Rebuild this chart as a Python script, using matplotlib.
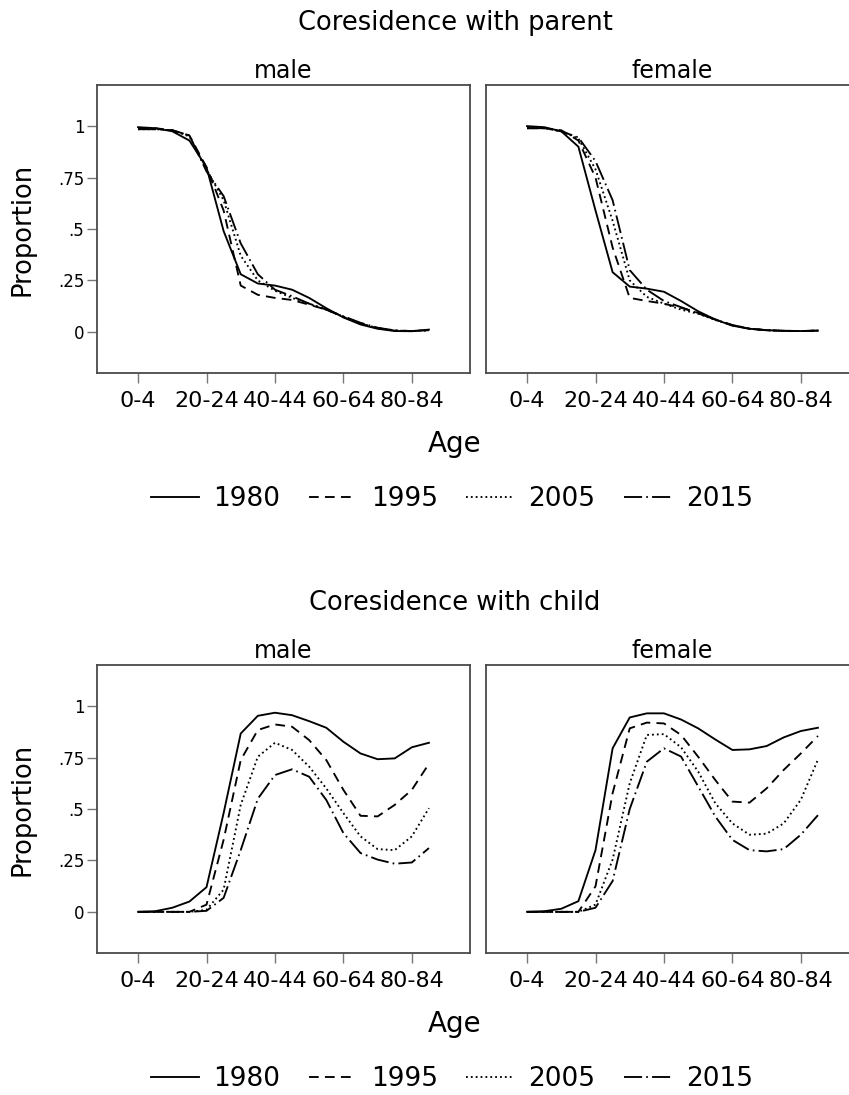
import matplotlib
matplotlib.use("Agg")
import matplotlib.pyplot as plt

plt.rcParams['font.family'] = ['DejaVu Sans']
plt.rcParams['lines.scale_dashes'] = False

age_groups = ["0-4", "5-9", "10-14", "15-19", "20-24", "25-29", "30-34", "35-39",
              "40-44", "45-49", "50-54", "55-59", "60-64", "65-69", "70-74",
              "75-79", "80-84", "85-89"]
tick_idx = [0, 4, 8, 12, 16]
years = ["1980", "1995", "2005", "2015"]

# Coresidence with parent
parent_male = {
    "1980": [0.995, 0.99, 0.975, 0.93, 0.80, 0.49, 0.28, 0.235, 0.225, 0.205, 0.165, 0.115, 0.07, 0.036, 0.015, 0.004, 0.003, 0.011],
    "1995": [0.99, 0.99, 0.98, 0.955, 0.80, 0.59, 0.225, 0.18, 0.165, 0.155, 0.132, 0.108, 0.072, 0.04, 0.018, 0.006, 0.004, 0.008],
    "2005": [0.985, 0.985, 0.98, 0.95, 0.79, 0.64, 0.37, 0.25, 0.20, 0.165, 0.137, 0.108, 0.074, 0.042, 0.018, 0.006, 0.004, 0.008],
    "2015": [0.985, 0.985, 0.98, 0.955, 0.78, 0.66, 0.43, 0.28, 0.205, 0.173, 0.137, 0.108, 0.076, 0.044, 0.02, 0.007, 0.004, 0.008],
}
parent_female = {
    "1980": [1.0, 0.995, 0.975, 0.90, 0.59, 0.29, 0.22, 0.21, 0.195, 0.15, 0.10, 0.06, 0.03, 0.015, 0.008, 0.005, 0.004, 0.006],
    "1995": [0.99, 0.99, 0.98, 0.93, 0.75, 0.41, 0.165, 0.15, 0.137, 0.117, 0.092, 0.06, 0.032, 0.015, 0.008, 0.005, 0.004, 0.006],
    "2005": [0.99, 0.99, 0.975, 0.94, 0.79, 0.54, 0.25, 0.17, 0.137, 0.108, 0.088, 0.058, 0.032, 0.015, 0.008, 0.005, 0.004, 0.006],
    "2015": [0.99, 0.99, 0.975, 0.945, 0.83, 0.64, 0.30, 0.205, 0.15, 0.12, 0.09, 0.06, 0.033, 0.016, 0.008, 0.005, 0.004, 0.006],
}

# Coresidence with child
child_male = {
    "1980": [0.0, 0.003, 0.02, 0.05, 0.12, 0.48, 0.867, 0.953, 0.968, 0.956, 0.927, 0.895, 0.827, 0.77, 0.742, 0.746, 0.80, 0.822],
    "1995": [0.0, 0.0, 0.0, 0.0, 0.035, 0.35, 0.738, 0.884, 0.911, 0.90, 0.835, 0.738, 0.593, 0.467, 0.464, 0.52, 0.593, 0.72],
    "2005": [0.0, 0.0, 0.0, 0.0, 0.01, 0.108, 0.52, 0.754, 0.822, 0.787, 0.706, 0.60, 0.48, 0.367, 0.305, 0.30, 0.367, 0.504],
    "2015": [0.0, 0.0, 0.0, 0.0, 0.005, 0.068, 0.30, 0.55, 0.665, 0.693, 0.657, 0.544, 0.383, 0.286, 0.254, 0.234, 0.24, 0.31],
}
child_female = {
    "1980": [0.0, 0.003, 0.015, 0.052, 0.30, 0.795, 0.945, 0.965, 0.965, 0.935, 0.892, 0.838, 0.787, 0.79, 0.806, 0.848, 0.879, 0.895],
    "1995": [0.0, 0.0, 0.0, 0.0, 0.124, 0.577, 0.892, 0.92, 0.916, 0.86, 0.754, 0.641, 0.536, 0.531, 0.60, 0.69, 0.77, 0.855],
    "2005": [0.0, 0.0, 0.0, 0.0, 0.035, 0.254, 0.625, 0.86, 0.864, 0.80, 0.682, 0.528, 0.43, 0.375, 0.38, 0.43, 0.545, 0.74],
    "2015": [0.0, 0.0, 0.0, 0.0, 0.02, 0.15, 0.50, 0.73, 0.795, 0.755, 0.61, 0.464, 0.35, 0.30, 0.294, 0.305, 0.375, 0.47],
}

blocks = [
    ("Coresidence with parent", parent_male, parent_female, 0),
    ("Coresidence with child", child_male, child_female, 580),
]

styles = {
    "1980": dict(linestyle="-"),
    "1995": dict(linestyle=(0, (7, 4.5))),
    "2005": dict(linestyle=(0, (1.3, 2.2))),
    "2015": dict(linestyle=(0, (13, 3, 1.2, 3))),
}

W, H = 849, 1095
fig = plt.figure(figsize=(W / 100, H / 100), dpi=100)

def fx(px):
    return px / W

def fy(py):
    return 1 - py / H

box_col = "#4a4a4a"
x = list(range(len(age_groups)))

for title, dmale, dfemale, off in blocks:
    top, bot = 85 + off, 373 + off
    for j, (lab, data, left) in enumerate([("male", dmale, 97), ("female", dfemale, 486)]):
        ax = fig.add_axes([fx(left), fy(bot), fx(373), (bot - top) / H])
        for yr in years:
            ax.plot(x, data[yr], color="black", lw=1.35, **styles[yr])
        ax.set_xlim(-2.4, 19.4)
        ax.set_ylim(-0.2, 1.2)
        ax.set_xticks(tick_idx)
        ax.set_xticklabels([age_groups[i] for i in tick_idx], fontsize=16)
        ax.tick_params(axis="x", length=7, width=1, color="#777777", pad=6)
        if j == 0:
            ax.set_yticks([0, 0.25, 0.5, 0.75, 1])
            ax.set_yticklabels(["0", ".25", ".5", ".75", "1"], fontsize=12)
            ax.tick_params(axis="y", length=7, width=1, color="#777777", pad=2)
        else:
            ax.set_yticks([])
        for s in ax.spines.values():
            s.set_color(box_col)
            s.set_linewidth(1.3)
        fig.text(fx(left + 186.5), fy(77.5 + off), lab, ha="center", va="baseline", fontsize=17)
    fig.text(fx(455), fy(30 + off), title, ha="center", va="baseline", fontsize=18.5)
    fig.text(fx(455), fy(452.5 + off), "Age", ha="center", va="baseline", fontsize=20)
    fig.text(fx(22.5), fy(229 + off), "Proportion", ha="center", va="center", rotation=90, fontsize=18.5)
    handles = [plt.Line2D([], [], color="black", lw=1.35, **styles[yr]) for yr in years]
    fig.legend(handles, years, loc="center", bbox_to_anchor=(fx(452), fy(499 + off)),
               ncol=4, frameon=False, fontsize=19, handlelength=1.8, handletextpad=0.55,
               columnspacing=1.08, borderpad=0, borderaxespad=0)

fig.savefig("out.png", dpi=100)
